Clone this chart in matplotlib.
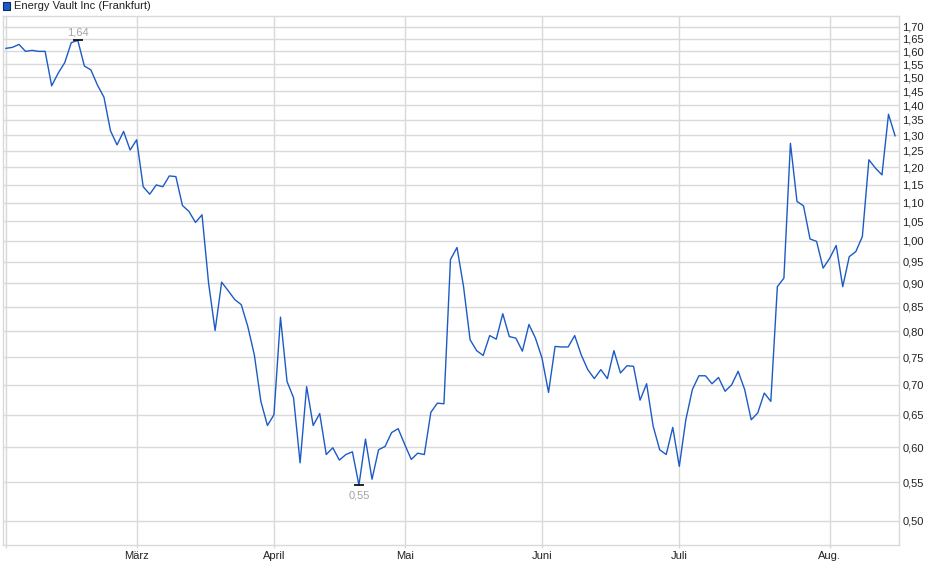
import numpy as np
import pandas as pd
import matplotlib
matplotlib.use('Agg')
import matplotlib.pyplot as plt
from matplotlib.patches import Rectangle

plt.rcParams['font.family'] = ['Liberation Sans', 'DejaVu Sans']

# Frankfurt trading days, Feb 3 - Aug 15 2025
holidays = ['2025-04-18', '2025-04-21', '2025-05-01']
title = 'Energy Vault Inc (Frankfurt)'
month_names = ['März', 'April', 'Mai', 'Juni', 'Juli', 'Aug.']

prices = [
    1.612, 1.616, 1.628, 1.600, 1.604, 1.600, 1.600, 1.469, 1.516, 1.556,
    1.635, 1.644, 1.543, 1.528, 1.472, 1.428, 1.314, 1.269, 1.312, 1.253,
    1.285, 1.144, 1.123, 1.149, 1.144, 1.175, 1.173, 1.092, 1.076, 1.047,
    1.067, 0.901, 0.801, 0.903, 0.884, 0.865, 0.854, 0.809, 0.754, 0.672,
    0.633, 0.650, 0.828, 0.706, 0.678, 0.577, 0.697, 0.633, 0.652, 0.589,
    0.599, 0.581, 0.589, 0.593, 0.546, 0.612, 0.554, 0.596, 0.601, 0.622,
    0.628, 0.604, 0.582, 0.591, 0.589, 0.654, 0.669, 0.668, 0.955, 0.984,
    0.893, 0.783, 0.762, 0.753, 0.791, 0.784, 0.835, 0.789, 0.786, 0.761,
    0.813, 0.786, 0.748, 0.687, 0.770, 0.769, 0.769, 0.791, 0.754, 0.727,
    0.711, 0.727, 0.711, 0.762, 0.721, 0.734, 0.733, 0.674, 0.702, 0.632,
    0.596, 0.589, 0.630, 0.572, 0.642, 0.692, 0.716, 0.716, 0.702, 0.713,
    0.689, 0.700, 0.724, 0.692, 0.642, 0.653, 0.686, 0.672, 0.893, 0.912,
    1.274, 1.103, 1.091, 1.005, 0.999, 0.935, 0.958, 0.989, 0.893, 0.962,
    0.974, 1.011, 1.223, 1.198, 1.178, 1.369, 1.298,
]

dates = pd.bdate_range('2025-02-03', '2025-08-15')
dates = dates[~dates.isin(pd.to_datetime(holidays))]
df = pd.DataFrame({'date': dates, 'price': prices})
df['i'] = np.arange(len(df))

# first trading day of each month (from March on)
firsts = df.groupby(df.date.dt.to_period('M'))['i'].min().values[1:]

grid_c = '#d9d9d9'
line_c = '#1c5bc5'

fig = plt.figure(figsize=(9.4, 5.79), dpi=100)
ax = fig.add_axes([2.7/940, 1 - 545/579, (898.7 - 2.7)/940, (545 - 16)/579])

ax.plot(df.i, df.price, color=line_c, lw=1.0)

ax.set_yscale('log')
ax.set_ylim(0.4707, 1.7466)
ax.set_xlim(-0.49, len(df) - 0.44)

yt = np.round(np.arange(0.50, 1.7001, 0.05), 2)
ax.set_yticks(yt)
ax.set_yticklabels([f'{v:.2f}'.replace('.', ',') for v in yt])
ax.yaxis.set_minor_locator(plt.NullLocator())
ax.yaxis.tick_right()
ax.tick_params(axis='y', length=0, pad=2.5, labelsize=8, labelcolor='#222222')

ax.set_xticks([0] + list(firsts))
ax.set_xticklabels([''] + month_names)
ax.tick_params(axis='x', length=2, width=1, color=grid_c, pad=2,
               labelsize=8, labelcolor='#222222')

ax.grid(True, color=grid_c, lw=1)
ax.set_axisbelow(True)
for s in ax.spines.values():
    s.set_color(grid_c)
    s.set_linewidth(1)

# max / min markers
imax = df.price.idxmax()
imin = df.price.idxmin()
for idx, dy in [(imax, 6), (imin, -7.5)]:
    v = df.price[idx]
    ax.plot(idx, v, marker='_', color='black', ms=7, mew=1.2)
    ax.annotate(f'{v:.2f}'.replace('.', ','), (idx, v), xytext=(0, dy),
                textcoords='offset points', ha='center', va='center',
                fontsize=8, color='#a3a3a3')

# legend
fig.patches.append(Rectangle((3/940, 1 - 9.5/579), 7/940, 7/579,
                             transform=fig.transFigure, facecolor=line_c,
                             edgecolor='#0a2a6a', lw=0.8))
fig.text(14/940, 1 - 6/579, title, fontsize=8, va='center', ha='left',
         color='#222222')

fig.savefig('out.png', dpi=100)
